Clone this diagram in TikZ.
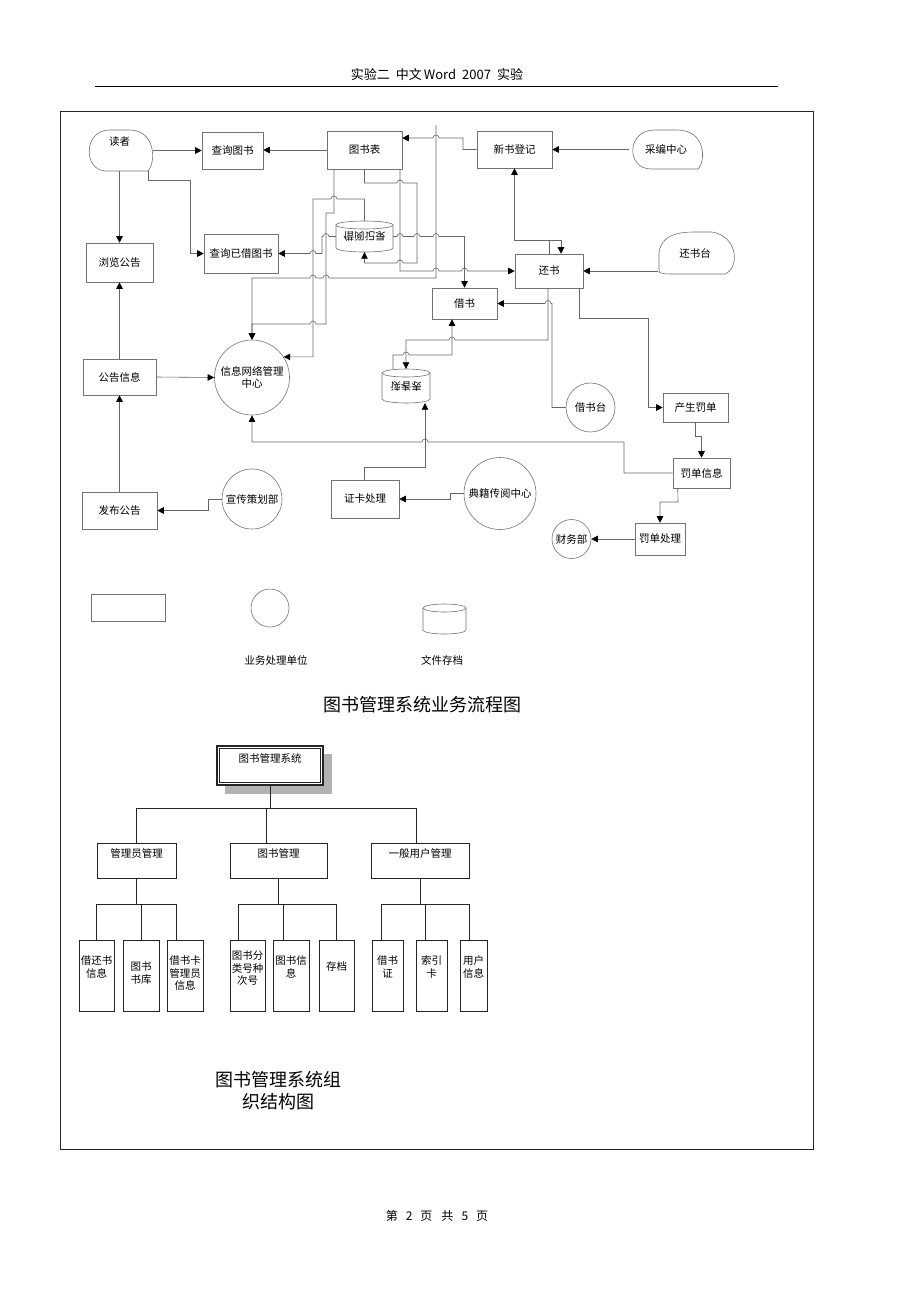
\documentclass[tikz,border=0pt]{standalone}
\usepackage{fontspec}
\setmainfont{Noto Sans CJK SC}
\usetikzlibrary{arrows.meta}
% hops on horizontal lines (leftward / rightward travel)
\newcommand\hopl[2]{-- ({#1+3},#2) arc[start angle=0,end angle=-180,radius=3]}
\newcommand\hopr[2]{-- ({#1-3},#2) arc[start angle=180,end angle=360,radius=3]}
% terminal-like shape: L T R B
\newcommand\dshape[4]{\draw[shp] ({#3-5},#4) -- ({#1+0.3*(#3-#1)},#4) .. controls ({#1-3},#4) and ({#1-3},#2) .. ({#1+0.35*(#3-#1)},#2) -- ({#3-0.35*(#3-#1)},#2) .. controls ({#3+3},#2) and ({#3+3},{#4-0.2*(#4-#2)}) .. ({#3-5},#4);}
% cylinder: L T R B
\newcommand\cylshape[4]{\draw[shp] (#1,{#2+4}) -- (#1,{#4-4}) arc[start angle=180,end angle=0,x radius={(#3-#1)/2},y radius=4] -- (#3,{#2+4});
  \draw[shp] ({(#1+#3)/2},{#2+4}) ellipse[x radius={(#3-#1)/2},y radius=4];}
\begin{document}
\begin{tikzpicture}[x=1pt,y=-1pt,font=\fontsize{10.5}{12.5}\selectfont,
  box/.style 2 args={draw=black!55,line width=.6pt,inner sep=0pt,minimum width=#1pt,minimum height=#2pt,align=center},
  ph/.style 2 args={inner sep=0pt,minimum width=#1pt,minimum height=#2pt,align=center},
  circ/.style={circle,draw=black!55,line width=.6pt,inner sep=0pt,minimum size=#1pt,align=center},
  shp/.style={draw=black!55,line width=.6pt},
  ln/.style={draw=black!60,line width=.6pt},
  arr/.style={ln,-{Triangle[length=6.5pt,width=6.5pt,color=black]}},
  org/.style={draw=black!85,line width=.9pt},
  obox/.style 2 args={draw=black!85,line width=.8pt,inner sep=0pt,minimum width=#1pt,minimum height=#2pt},
  lab/.style={anchor=north,inner sep=0pt,align=center,yshift=#1},
  ttl/.style={font=\fontsize{18}{22}\selectfont,align=center}]
\fill[white] (0,0) rectangle (920,1302);
\useasboundingbox (0,0) rectangle (920,1302);

% header / footer / frame
\node (hdr) at (437,75) {\fontsize{13}{15}\selectfont 实验二\hspace{6pt}中文\hspace{2pt}Word\hspace{6pt}2007\hspace{6pt}实验};
\draw[black,line width=.9pt] (95,86) -- (778,86);
\draw[black!85,line width=.8pt] (60,111) rectangle (813,1149);
\node (ftr) at (437,1216) {\fontsize{12}{14}\selectfont 第\hspace{8pt}2\hspace{8pt}页\hspace{9pt}共\hspace{8pt}5\hspace{8pt}页};

% ---------------- flow chart nodes ----------------
\node[ph={67}{41},label={[lab=-7pt]north:读者}] (dz) at (119.5,150.5) {};
\dshape{86}{130}{153}{171}
\node[box={61}{37}] (cxts) at (232.5,150.5) {查询图书};
\node[box={75}{38}] (tsb) at (364.5,150) {图书表};
\node[box={75}{37}] (xsdj) at (514.5,149.5) {新书登记};
\node[ph={74}{39}] (cbzx) at (666,149.5) {采编中心};
\dshape{629}{130}{703}{169}
\node[box={67}{39}] (llgg) at (119.5,262.5) {浏览公告};
\node[box={74}{39}] (cxyj) at (241,253.5) {查询已借图书};
\node[ph={57}{31}] (jyjl) at (364.5,236.5) {\scalebox{1}[-1]{借阅记录}};
\cylshape{336}{221}{393}{252}
\node[box={68}{34}] (hs) at (549,271) {还书};
\node[ph={74}{42}] (hst) at (695,253) {还书台};
\draw[shp] (659,271) -- (659,252) .. controls (662,236) and (675,232) .. (695,232) -- (712,232) .. controls (738,236) and (740,268) .. (725,274) -- (670,274) .. controls (663,274) and (659,273) .. (659,271);
\node[box={65}{31}] (js) at (464.5,303.5) {借书};
\node[box={73}{36}] (ggxx) at (119.5,377) {公告信息};
\node[circ=75] (xxzx) at (252,377.5) {信息网络管理\\中心};
\node[ph={48}{34}] (dzb) at (406,386) {\scalebox{1}[-1]{读者表}};
\cylshape{382}{369}{430}{403}
\node[circ=49] (jst) at (590.5,407.5) {借书台};
\node[box={65}{29}] (cscd) at (695.5,407.5) {产生罚单};
\node[box={57}{30}] (fdxx) at (701.5,473) {罚单信息};
\node[box={50}{32}] (fdcl) at (660,539) {罚单处理};
\node[circ=39] (cwb) at (571.5,539) {财务部};
\node[box={75}{37}] (fbgg) at (119.5,510.5) {发布公告};
\node[circ=60] (xcch) at (252,499) {宣传策划部};
\node[box={68}{38}] (zkcl) at (365,499) {证卡处理};
\node[circ=72] (djcy) at (500,493.5) {典籍传阅中心};

% ---------------- flow chart connectors ----------------
\draw[arr] (dz.east) -- (cxts.west);
\draw[arr] (tsb.west) -- (tsb.west -| cxts.east);
\draw[arr] (dz.south) -- (llgg.north);
\draw[arr] ([xshift=28.5pt]dz.south) -- ++(0,9) -| (190,253.5) -- (cxyj.west);
\draw[arr] (xsdj.west) -- (463,149.5) -- (463,138) \hopl{436}{138} -- ([yshift=12pt]tsb.east);
\coordinate (top436) at (436,125);
\draw[arr] (top436) -- (436,278) \hopl{326}{278} \hopl{313}{278} -- (252,278) -- (xxzx.north);
\draw[arr] ([xshift=-30.5pt]tsb.south) -- (334,213) -- (326,213) -- (326,324) \hopl{313}{324} -- (252,324) -- (xxzx.north);
\draw[arr] (jyjl.north) -- (364.5,199) \hopl{334}{199} -- (313,199) |- (xxzx.33);
\draw[arr] (jyjl.west) \hopl{326}{236.5} -- (322,236.5) -- (322,253.5) \hopl{313}{253.5} -- (cxyj.east);
\draw[arr] (tsb.south) -- (364.5,183) \hopr{400}{183} -- (417,183) -- (417,263) \hopl{400}{263} -- (364.5,263) -- (jyjl.south);
\draw[arr] ([xshift=35.5pt]tsb.south) -- (400,271) \hopr{436}{271} \hopr{464.5}{271} -- (hs.west);
\draw[arr] (jyjl.east) \hopr{400}{236.5} \hopr{417}{236.5} \hopr{436}{236.5} -- (464.5,236.5) -- (js.north);
\draw[arr] ([yshift=-18pt]hst.west) -- (hs.east);
\draw[arr] (hs.north) -- (549,240) -| (xsdj.south);
\coordinate (j1) at (549,240);
\draw[arr] (j1) -- (561,240) -- ([xshift=12pt]hs.north);
\draw[arr] (jst.west) -- (552,407.5) -- (552,303.5) \hopl{548}{303.5} -- (js.east);
\draw[arr] ([xshift=-1pt]hs.south) -- (548,340) \hopl{452}{340} -- (406,340) -- (dzb.north);
\draw[arr] ([xshift=-13pt]dzb.north) -- (393,355) \hopr{406}{355} -- (452,355) -- ([xshift=-12.5pt]js.south);
\draw[arr] ([xshift=30pt]hs.south) -- (579,318) -- (648,318) -- (648,407.5) -- (cscd.west);
\draw[arr] (cscd.south) -- (695.5,436) -- (701.5,436) -- (fdxx.north);
\draw[arr] (fdxx.west) -- (624,473) -- (624,442) \hopl{425}{442} -- (252,442) -- (xxzx.south);
\draw[arr] ([xshift=-1pt]zkcl.north) -- (364,467) -- (425,467) -- ([xshift=19pt]dzb.south);
\draw[arr] (djcy.west) -- (450,493.5) -- (450,499) -- (zkcl.east);
\draw[arr] (xcch.west) -- (208,499) -- (208,510.5) -- (fbgg.east);
\draw[arr] (fbgg.north) -- (ggxx.south);
\draw[arr] (ggxx.north) -- (llgg.south);
\draw[arr] (ggxx.east) -- (xxzx.west);
\draw[arr] ([xshift=5pt]fdxx.south west) -- (678,502) -- (660,502) -- (fdcl.north);
\draw[arr] (fdcl.west) -- (cwb.east);
\draw[arr] (cbzx.west) -- (xsdj.east);

% ---------------- legend ----------------
\node[box={74}{27}] (lgrect) at (128,607.5) {};
\node[circ=38] (lgcirc) at (270,608) {};
\node[ph={43}{30}] (lgcyl) at (444.5,619) {};
\cylshape{423}{604}{466}{634}
\node (lgt1) at (276,660) {业务处理单位};
\node (lgt2) at (442,660) {文件存档};
\node[ttl] (t1) at (422,705) {图书管理系统业务流程图};

% ---------------- organisation chart ----------------
\fill[black!30] (225,754) rectangle (332,794);
\node[obox={106}{39},fill=white,line width=1.4pt,label={[lab=-8pt]north:图书管理系统}] (root) at (270,765.5) {};
\draw[black!85,line width=.6pt] ([shift={(3pt,-3pt)}]root.north west) rectangle ([shift={(-3pt,3pt)}]root.south east);

\node[obox={79}{35},label={[lab=-6pt]north:管理员管理}] (adm) at (136.5,860.5) {};
\node[obox={97}{35},label={[lab=-6pt]north:图书管理}] (bkm) at (278.5,860.5) {};
\node[obox={98}{35},label={[lab=-6pt]north:一般用户管理}] (usr) at (420,860.5) {};

\node[obox={35}{71},label={[lab=-16pt]north:借还书\\信息}] (l1) at (96.5,975.5) {};
\node[obox={36}{71},label={[lab=-22pt]north:图书\\书库}] (l2) at (141,975.5) {};
\node[obox={36}{71},label={[lab=-16pt]north:借书卡\\管理员\\信息}] (l3) at (185,975.5) {};
\node[obox={35}{71},label={[lab=-11pt]north:图书分\\类号种\\次号}] (l4) at (247.5,975.5) {};
\node[obox={36}{71},label={[lab=-16pt]north:图书信\\息}] (l5) at (291,975.5) {};
\node[obox={35}{71},label={[lab=-22pt]north:存档}] (l6) at (336.5,975.5) {};
\node[obox={31}{71},label={[lab=-16pt]north:借书\\证}] (l7) at (387.5,975.5) {};
\node[obox={31}{71},label={[lab=-16pt]north:索引\\卡}] (l8) at (431.5,975.5) {};
\node[obox={27}{71},label={[lab=-16pt]north:用户\\信息}] (l9) at (473.5,975.5) {};

\coordinate (rj) at (270,808);
\draw[org] (root.south) -- (rj);
\draw[org] (adm.north) |- (rj) -| ([xshift=-4pt]usr.north);
\draw[org] (266,808) -- ([xshift=-12.5pt]bkm.north);

\draw[org] (adm.south) -- ++(0,26) coordinate (g1);
\draw[org] (l1.north) |- (g1) -| ([xshift=-9pt]l3.north);
\draw[org] (l2.north) -- ++(0,-36);
\draw[org] (bkm.south) -- ++(0,26) coordinate (g2);
\draw[org] ([xshift=-9.5pt]l4.north) |- (g2) -| (l6.north);
\draw[org] ([xshift=-8pt]l5.north) -- ++(0,-36);
\draw[org] (usr.south) -- ++(0,26) coordinate (g3);
\draw[org] ([xshift=-6.5pt]l7.north) |- (g3) -| ([xshift=-4.5pt]l9.north);
\draw[org] ([xshift=-6.5pt]l8.north) -- ++(0,-36);

\node[ttl] (t2) at (278,1091) {图书管理系统组\\织结构图};
\end{tikzpicture}
\end{document}
